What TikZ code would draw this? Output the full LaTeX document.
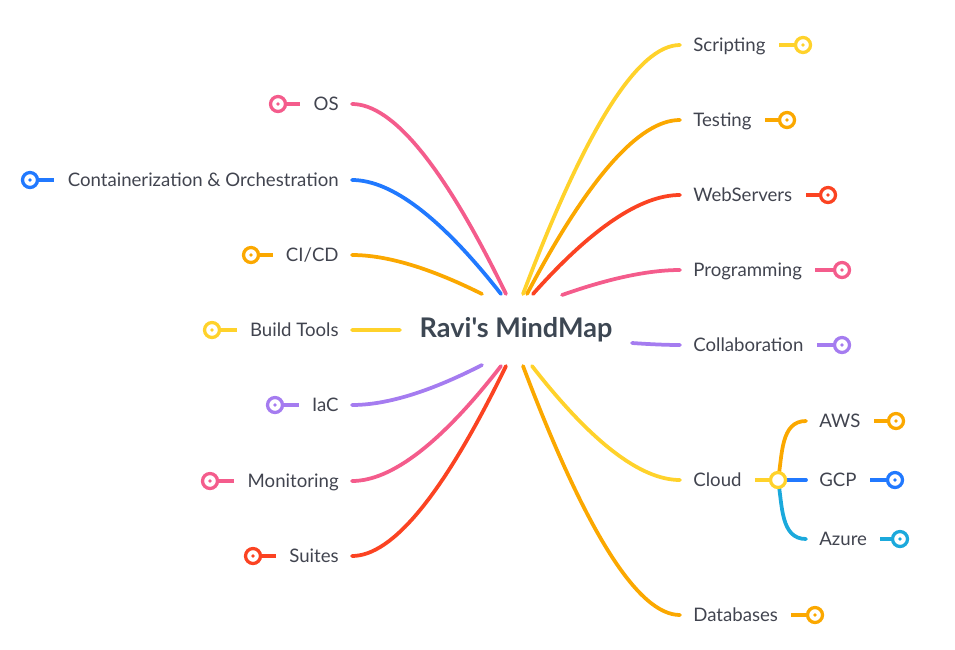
\documentclass[tikz,border=0pt]{standalone}
\usepackage{fontspec}
\newfontfamily\mmfont{Lato}
\usetikzlibrary{calc}
\definecolor{mmpink}{HTML}{F45C8C}
\definecolor{mmblue}{HTML}{2179FF}
\definecolor{mmorange}{HTML}{FBA800}
\definecolor{mmyellow}{HTML}{FFD22B}
\definecolor{mmred}{HTML}{FB4322}
\definecolor{mmpurple}{HTML}{A57CF0}
\definecolor{mmcyan}{HTML}{1BA9DC}
\definecolor{mmtext}{HTML}{41444F}
\definecolor{mmtitle}{HTML}{3D4753}
\tikzstyle{topic}=[font=\mmfont\fontsize{10.6}{12}\selectfont, text=mmtext, inner xsep=0.26cm, inner ysep=0pt, text height=0.72em, text depth=0pt]
\tikzstyle{root}=[font=\mmfont\fontsize{15.4}{17}\selectfont\bfseries, text=mmtitle, inner sep=0pt, text height=0.72em, text depth=0pt]
\tikzstyle{branch}=[draw, line width=0.075cm, line cap=round]
\tikzstyle{stub}=[draw, line width=0.07cm]
\tikzstyle{marker}=[circle, draw, fill=white, line width=0.065cm, minimum size=0.3cm, inner sep=0pt]

\begin{document}
\begin{tikzpicture}[x=0.02cm, y=-0.02cm]

    \useasboundingbox (0,0) rectangle (955,649);

    \node[root] (root) at (516,331) {Ravi's MindMap};

    % left side
    \foreach \y/\sx/\sy/\name/\txt/\col/\mx in {104/506/294/os/OS/mmpink/278,
        180/501/294/cont/{Containerization \& Orchestration}/mmblue/30,
        255/482/294/cicd/CI\slash CD/mmorange/251,
        330/400/330/build/Build Tools/mmyellow/212,
        405/482/365/iac/IaC/mmpurple/275,
        481/501/366/mon/Monitoring/mmpink/210,
        556/506/366/suites/Suites/mmred/253}
    {
        \node[topic, anchor=east] (\name) at (352,\y) {\txt};
        \coordinate (s\name) at (\sx,\sy);
        \coordinate (h\name) at ($(s\name)!0.6!(\name.east)$);
        \coordinate (c\name) at (h\name |- \name.east);
        \path[branch, \col] (s\name) .. controls ($(s\name)!2/3!(c\name)$) and ($(\name.east)!2/3!(c\name)$) .. (\name.east);
        \node[marker, draw=\col] (m\name) at (\mx,\y) {};
        \fill[\col] (m\name) circle (0.036cm);
        \path[stub, \col] (m\name) -- (\name);
    }

    % right side
    \foreach \y/\sx/\sy/\name/\txt/\col/\mx in {45/523/294/script/Scripting/mmyellow/803,
        120/527/294/test/Testing/mmorange/787,
        195/533/294/web/WebServers/mmred/828,
        270/562/295/prog/Programming/mmpink/842,
        345/632/343/collab/Collaboration/mmpurple/842,
        615/523/366/db/Databases/mmorange/815}
    {
        \node[topic, anchor=west] (\name) at (680,\y) {\txt};
        \coordinate (s\name) at (\sx,\sy);
        \coordinate (h\name) at ($(s\name)!0.6!(\name.west)$);
        \coordinate (c\name) at (h\name |- \name.west);
        \path[branch, \col] (s\name) .. controls ($(s\name)!2/3!(c\name)$) and ($(\name.west)!2/3!(c\name)$) .. (\name.west);
        \node[marker, draw=\col] (m\name) at (\mx,\y) {};
        \fill[\col] (m\name) circle (0.036cm);
        \path[stub, \col] (m\name) -- (\name);
    }

    % cloud and its children
    \node[topic, anchor=west] (cloud) at (680,480) {Cloud};
    \coordinate (scloud) at (532,366);
    \coordinate (hcloud) at ($(scloud)!0.6!(cloud.west)$);
    \coordinate (ccloud) at (hcloud |- cloud.west);
    \path[branch, mmyellow] (scloud) .. controls ($(scloud)!2/3!(ccloud)$) and ($(cloud.west)!2/3!(ccloud)$) .. (cloud.west);

    \foreach \y/\name/\txt/\col/\mx/\out in {421/aws/AWS/mmorange/896/80,
        480/gcp/GCP/mmblue/895/0,
        539/azure/Azure/mmcyan/900/-80}
    {
        \node[topic, anchor=west] (\name) at (806,\y) {\txt};
        \path[branch, \col] (778,480) to[out=\out, in=180] (\name.west);
        \node[marker, draw=\col] (m\name) at (\mx,\y) {};
        \fill[\col] (m\name) circle (0.036cm);
        \path[stub, \col] (m\name) -- (\name);
    }

    \node[marker, draw=mmyellow] (mcloud) at (778,480) {};
    \path[stub, mmyellow] (cloud) -- (mcloud);

\end{tikzpicture}
\end{document}
